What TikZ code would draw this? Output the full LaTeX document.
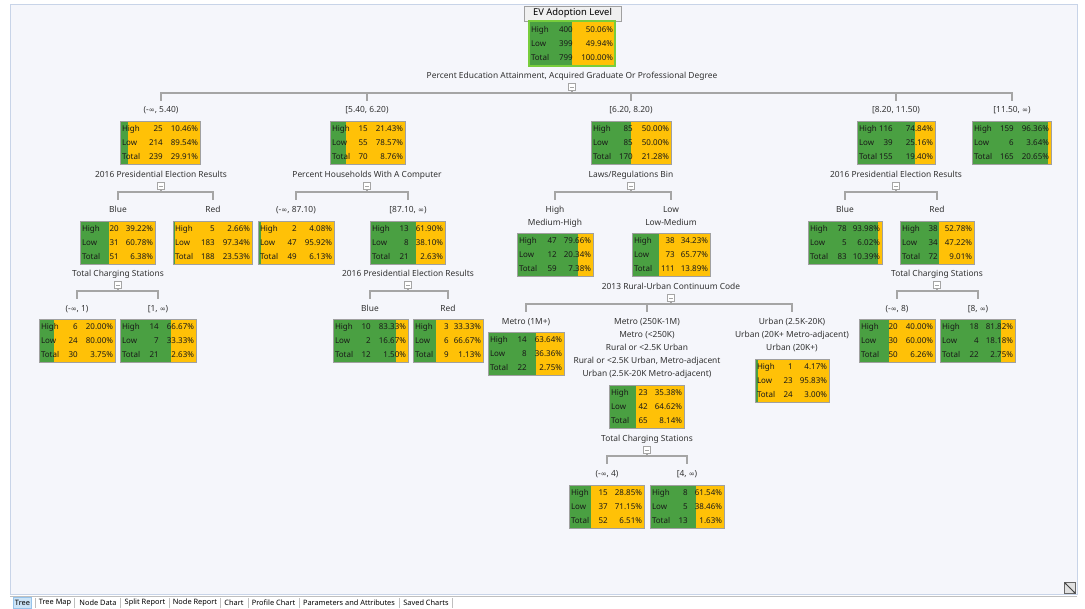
\documentclass[tikz,border=0pt]{standalone}
\usepackage{fontspec}
\setmainfont{Noto Sans}
\newfontfamily\symfont{DejaVu Sans}[Scale=0.85]
\newcommand{\inft}{{\symfont ∞}}
\usetikzlibrary{calc,arrows.meta}
\definecolor{evgreen}{RGB}{74,160,66}
\definecolor{evyellow}{RGB}{255,193,7}
\definecolor{boxline}{RGB}{160,160,160}
\definecolor{connc}{RGB}{165,165,165}
\definecolor{labc}{RGB}{50,50,50}
\definecolor{cellc}{RGB}{25,25,25}
\definecolor{panelbg}{RGB}{245,246,251}
\definecolor{panelline}{RGB}{200,212,232}
\definecolor{selgreen}{RGB}{120,205,60}
\definecolor{tabsel}{RGB}{204,228,247}
\definecolor{tabselline}{RGB}{150,195,235}
\tikzset{
  conn/.style={draw=connc, line width=1.3pt},
  lbl/.style={font=\fontsize{8.4}{13}\selectfont, text=labc, inner sep=0pt, align=center},
  cell/.style={font=\fontsize{8}{9}\selectfont, text=cellc, inner sep=0pt},
  boxframe/.style={draw=boxline, line width=0.8pt, inner sep=0pt, outer sep=0pt},
  ico/.style={draw=connc, fill=white, minimum size=6.5pt, inner sep=0pt, line width=0.7pt,
    path picture={\draw[connc, line width=0.6pt] ([xshift=-1.6pt]path picture bounding box.center) -- ([xshift=1.6pt]path picture bounding box.center);}},
  tab/.style={font=\fontsize{7.4}{8}\selectfont, text=black, inner sep=1.5pt},
}
% #1 name #2 left #3 right #4 top #5 height #6 count-right x #7 green fraction #8 rows
\newcommand{\evbox}[8]{%
  \pgfmathsetmacro\evgx{#2+#7*(#3-#2)}%
  \fill[evyellow] (#2,#4) rectangle (#3,#4+#5);
  \fill[evgreen] (#2,#4) rectangle (\evgx,#4+#5);
  \node[boxframe, anchor=north west, minimum width={(#3-#2)*1pt}, minimum height={#5*1pt}] (#1) at (#2,#4) {};
  \foreach \lab/\cnt/\pct [count=\i] in {#8} {
    \pgfmathsetmacro\evry{#4+#5/2+(\i-2)*14}
    \node[cell, anchor=mid west] at (#2+1.8,\evry) {\lab};
    \node[cell, anchor=mid east] at (#6+1,\evry) {\cnt};
    \node[cell, anchor=mid east] at (#3-1.8,\evry) {\pct\%};
  }
}
% split: #1 name #2 x #3 label y #4 text
\newcommand{\evsplit}[4]{%
  \node[lbl, anchor=base] (#1) at (#2,#3+4) {#4};
  \node[ico] (#1i) at (#2,#3+12) {};
  \coordinate (#1b) at (#2,#3+18);
  \draw[conn] (#1i) -- (#1b);
}
% child label: #1 name #2 x #3 bus name #4 text #5 bus y #6 extra lines
\newcommand{\evchild}[6]{%
  \node[lbl, anchor=base] (#1) at (#2,#5+21+13*#6) {#4};
  \draw[conn] (#3b) -| ([yshift=-8pt]#3b -| #1.north);
}
\begin{document}
\begin{tikzpicture}[x=1pt,y=-1pt]
\useasboundingbox (0,0) rectangle (1085,609);
\fill[white] (0,0) rectangle (1085,609);
\fill[panelbg] (10,4) rectangle (1077,594);
\draw[panelline, line width=0.8pt] (10,4) rectangle (1077,594);

% root
\node[draw=boxline, fill=white!94!black, line width=0.8pt, minimum width=97pt, minimum height=15pt, inner sep=0pt,
  font=\fontsize{9.4}{10}\selectfont\bfseries, text=black] (title) at (572.5,13.5) {EV Adoption Level};
\evbox{root}{529}{615}{21}{45}{572}{0.5006}{High/400/50.06, Low/399/49.94, Total/799/100.00}
\draw[selgreen, line width=1.6pt] (root.north west) rectangle (root.south east);

\evsplit{sR}{572}{75}{Percent Education Attainment, Acquired Graduate Or Professional Degree}
\evchild{lA}{161}{sR}{(-\inft, 5.40)}{92}{0}
\evchild{lB}{367}{sR}{[5.40, 6.20)}{92}{0}
\evchild{lC}{631}{sR}{[6.20, 8.20)}{92}{0}
\evchild{lD}{896}{sR}{[8.20, 11.50)}{92}{0}
\evchild{lE}{1012}{sR}{[11.50, \inft)}{92}{0}

\evbox{nA}{120}{200}{121}{43}{162}{0.1046}{High/25/10.46, Low/214/89.54, Total/239/29.91}
\evbox{nB}{330}{405}{121}{43}{367}{0.2143}{High/15/21.43, Low/55/78.57, Total/70/8.76}
\evbox{nC}{591}{671}{121}{43}{632}{0.5}{High/85/50.00, Low/85/50.00, Total/170/21.28}
\evbox{nD}{857}{935}{121}{43}{892}{0.7484}{High/116/74.84, Low/39/25.16, Total/155/19.40}
\evbox{nE}{972}{1051}{121}{43}{1013}{0.9636}{High/159/96.36, Low/6/3.64, Total/165/20.65}

% level 2 splits
\evsplit{sA}{161}{174}{2016 Presidential Election Results}
\evchild{lAB}{118}{sA}{Blue}{192}{0}
\evchild{lAR}{213}{sA}{Red}{192}{0}
\evsplit{sB}{367}{174}{Percent Households With A Computer}
\evchild{lBL}{296}{sB}{(-\inft, 87.10)}{192}{0}
\evchild{lBR}{408}{sB}{[87.10, \inft)}{192}{0}
\evsplit{sC}{631}{174}{Laws/Regulations Bin}
\evchild{lCH}{555}{sC}{High\\Medium-High}{192}{1}
\evchild{lCL}{671}{sC}{Low\\Low-Medium}{192}{1}
\evsplit{sD}{896}{174}{2016 Presidential Election Results}
\evchild{lDB}{845}{sD}{Blue}{192}{0}
\evchild{lDR}{937}{sD}{Red}{192}{0}

\evbox{nAB}{80}{155}{221}{43}{118}{0.3922}{High/20/39.22, Low/31/60.78, Total/51/6.38}
\evbox{nAR}{173}{252}{221}{43}{214}{0.0266}{High/5/2.66, Low/183/97.34, Total/188/23.53}
\evbox{nBL}{258}{334}{221}{43}{296}{0.0408}{High/2/4.08, Low/47/95.92, Total/49/6.13}
\evbox{nBR}{370}{445}{221}{43}{408}{0.619}{High/13/61.90, Low/8/38.10, Total/21/2.63}
\evbox{nCH}{517}{593}{233}{43}{556}{0.7966}{High/47/79.66, Low/12/20.34, Total/59/7.38}
\evbox{nCL}{632}{710}{233}{43}{674}{0.3423}{High/38/34.23, Low/73/65.77, Total/111/13.89}
\evbox{nDB}{808}{882}{221}{43}{846}{0.9398}{High/78/93.98, Low/5/6.02, Total/83/10.39}
\evbox{nDR}{900}{974}{221}{43}{937}{0.5278}{High/38/52.78, Low/34/47.22, Total/72/9.01}

% level 3 splits
\evsplit{sAB}{118}{273}{Total Charging Stations}
\evchild{lABL}{77}{sAB}{(-\inft, 1)}{291}{0}
\evchild{lABR}{158}{sAB}{[1, \inft)}{291}{0}
\evsplit{sBR}{408}{273}{2016 Presidential Election Results}
\evchild{lBRB}{370}{sBR}{Blue}{291}{0}
\evchild{lBRR}{448}{sBR}{Red}{291}{0}
\evsplit{sDR}{937}{273}{Total Charging Stations}
\evchild{lDRL}{897}{sDR}{(-\inft, 8)}{291}{0}
\evchild{lDRR}{978}{sDR}{[8, \inft)}{291}{0}
\evsplit{sCL}{671}{286}{2013 Rural-Urban Continuum Code}
\evchild{lMa}{526}{sCL}{Metro (1M+)}{304}{0}
\evchild{lMb}{647}{sCL}{Metro (250K-1M)\\Metro (<250K)\\Rural or <2.5K Urban\\Rural or <2.5K Urban, Metro-adjacent\\Urban (2.5K-20K Metro-adjacent)}{304}{4}
\evchild{lMc}{792}{sCL}{Urban (2.5K-20K)\\Urban (20K+ Metro-adjacent)\\Urban (20K+)}{304}{2}

\evbox{nABL}{39}{115}{319}{43}{77}{0.20}{High/6/20.00, Low/24/80.00, Total/30/3.75}
\evbox{nABR}{120}{196}{319}{43}{158}{0.6667}{High/14/66.67, Low/7/33.33, Total/21/2.63}
\evbox{nBRB}{333}{408}{319}{43}{370}{0.8333}{High/10/83.33, Low/2/16.67, Total/12/1.50}
\evbox{nBRR}{413}{483}{319}{43}{448}{0.3333}{High/3/33.33, Low/6/66.67, Total/9/1.13}
\evbox{nDRL}{859}{935}{319}{43}{897}{0.40}{High/20/40.00, Low/30/60.00, Total/50/6.26}
\evbox{nDRR}{940}{1015}{319}{43}{978}{0.8182}{High/18/81.82, Low/4/18.18, Total/22/2.75}
\evbox{nMa}{488}{564}{332}{43}{526}{0.6364}{High/14/63.64, Low/8/36.36, Total/22/2.75}
\evbox{nMb}{609}{684}{385}{43}{647}{0.3538}{High/23/35.38, Low/42/64.62, Total/65/8.14}
\evbox{nMc}{755}{829}{359}{43}{792}{0.0417}{High/1/4.17, Low/23/95.83, Total/24/3.00}

% level 4 split
\evsplit{sMb}{647}{438}{Total Charging Stations}
\evchild{lMbL}{607}{sMb}{(-\inft, 4)}{456}{0}
\evchild{lMbR}{687}{sMb}{[4, \inft)}{456}{0}
\evbox{nMbL}{569}{644}{485}{43}{607}{0.2885}{High/15/28.85, Low/37/71.15, Total/52/6.51}
\evbox{nMbR}{650}{724}{485}{43}{687}{0.6154}{High/8/61.54, Low/5/38.46, Total/13/1.63}

% resize icon
\node[draw=black!60, fill=black!12, minimum size=11pt, inner sep=0pt] (rsz) at (1070,588) {};
\draw[black!75, line width=0.8pt, -{Stealth[length=2.5pt]}] (rsz.center) -- (rsz.north west);
\draw[black!75, line width=0.8pt, -{Stealth[length=2.5pt]}] (rsz.center) -- (rsz.south east);

% tab bar
\draw[black!25, line width=0.6pt] (10,596) -- (1077,596);
\node[tab, draw=tabselline, fill=tabsel, minimum height=11pt] (t1) at (22.5,603) {Tree};
\node[tab] (t2) at (55,603) {Tree Map};
\node[tab] (t3) at (98,603) {Node Data};
\node[tab] (t4) at (145,603) {Split Report};
\node[tab] (t5) at (195,603) {Node Report};
\node[tab] (t6) at (234,603) {Chart};
\node[tab] (t7) at (273.5,603) {Profile Chart};
\node[tab] (t8) at (349,603) {Parameters and Attributes};
\node[tab] (t9) at (426,603) {Saved Charts};
\foreach \sx in {35,74.5,120.5,169.5,220,248,299,399,452} \draw[black!25, line width=0.5pt] (\sx,598) -- (\sx,608);
\end{tikzpicture}
\end{document}
